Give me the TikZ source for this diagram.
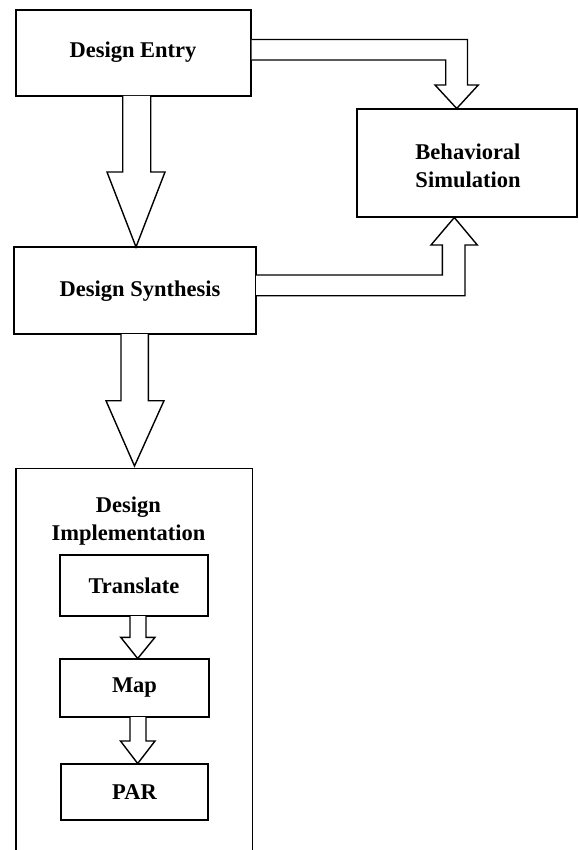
\documentclass[tikz,border=0pt]{standalone}
\usepackage{fontspec}
\setmainfont{Liberation Serif}
\begin{document}
\begin{tikzpicture}[x=1pt,y=-1pt,
  box/.style={draw, line width=1.4pt, fill=white, inner sep=0pt, font=\bfseries\fontsize{22.5}{28.5}\selectfont, align=center},
  lbl/.style={inner sep=0pt, font=\bfseries\fontsize{22.5}{28.5}\selectfont},
  blk/.style={draw, fill=white, line width=1.4pt, line join=miter}]
\useasboundingbox (0,0) rectangle (578,850);
% boxes
\node[box, minimum width=235pt, minimum height=86pt] (entry) at (133.5,53) {};
\node[lbl] (entrytxt) at (133,52) {Design Entry};
\node[box, minimum width=242pt, minimum height=87pt] (synth) at (135,290.5) {};
\node[lbl] (synthtxt) at (140,291) {Design Synthesis};
\node[box, minimum width=220pt, minimum height=108pt] (beh) at (467,163) {};
\node[lbl, align=left] (behtxt) at (468,166) {Behavioral\\Simulation};
% implementation frame (open at the bottom)
\coordinate (implbl) at (16,852);
\coordinate (impltl) at (16,468.3);
\coordinate (impltr) at (252.3,468.3);
\coordinate (implbr) at (252.3,852);
\draw[line width=1.4pt] (implbl) -- (impltl) -- (impltr) -- (implbr);
\node[lbl, align=center] (impltxt) at (128.5,521) {Design\\Implementation};
\node[box, minimum width=148pt, minimum height=61pt] (trans) at (134,585.5) {Translate};
\node[box, minimum width=149pt, minimum height=58pt] (map) at (134.5,688) {Map};
\node[box, minimum width=147pt, minimum height=56pt] (par) at (134.5,792) {PAR};
% block arrows
\filldraw[blk] (122.7,96) -- (122.7,172) -- (107,172) -- (136,247) -- (165,172) -- (150.7,172) -- (150.7,96);
\filldraw[blk] (251.5,39.5) -- (467.5,39.5) -- (467.5,85) -- (478.3,85) -- (456.7,108.5) -- (435,85) -- (445.7,85) -- (445.7,60) -- (251.5,60);
\filldraw[blk] (256,275) -- (442.3,275) -- (442.3,245) -- (431,245) -- (454.3,217.5) -- (477.3,245) -- (465,245) -- (465,295.7) -- (256,295.7);
\filldraw[blk] (121,334) -- (121,400.7) -- (106,400.7) -- (134.5,466) -- (164,400.7) -- (148.3,400.7) -- (148.3,334);
\filldraw[blk] (130,616) -- (130,637.3) -- (120.7,637.3) -- (137.7,658.5) -- (155,637.3) -- (146,637.3) -- (146,616);
\filldraw[blk] (130,717) -- (130,741) -- (120.5,741) -- (137.7,763.5) -- (155,741) -- (146,741) -- (146,717);
\end{tikzpicture}
\end{document}
